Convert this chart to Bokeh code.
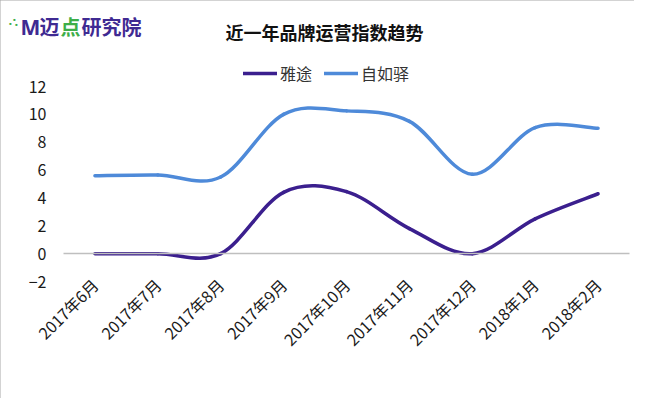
import numpy as np
from math import pi
from bokeh.plotting import figure
from bokeh.models import Range1d, FixedTicker, Label, Legend, LegendItem
from bokeh.embed import file_html
from bokeh.resources import INLINE

# ---- data ----
months = ["2017年6月", "2017年7月", "2017年8月", "2017年9月", "2017年10月",
          "2017年11月", "2017年12月", "2018年1月", "2018年2月"]
yatu = [0.0, 0.0, 0.0, 4.4, 4.45, 1.8, 0.0, 2.5, 4.3]
ziruyi = [5.6, 5.65, 5.5, 10.0, 10.25, 9.5, 5.7, 9.05, 9.0]
y_ticks = [-2, 0, 2, 4, 6, 8, 10, 12]
series_names = ["雅途", "自如驿"]
title_text = "近一年品牌运营指数趋势"
logo_parts = ["M", "迈", "点", "研究院"]

FONT = "Noto Sans CJK SC"
DARK = "#3B1F8E"
BLUE = "#4E8AD9"
LOGO_PURPLE = "#3F2A92"
LOGO_GREEN = "#3DAE49"

# ---- layout constants (pixels) ----
W, H = 634, 398
PLOT_L, PLOT_R, PLOT_T, PLOT_B = 63, 629, 86, 281   # plot area of the chart
n = len(months)
xpx = (PLOT_R - PLOT_L) / n
ypx = (PLOT_B - PLOT_T) / (y_ticks[-1] - y_ticks[0])
x_start = -0.5 - PLOT_L / xpx
x_end = n - 0.5 + (W - PLOT_R) / xpx
y_end = y_ticks[-1] + PLOT_T / ypx
y_start = y_ticks[0] - (H - PLOT_B) / ypx


def smooth_segments(xs, ys):
    """Cubic Bezier control points (Catmull-Rom style, like Excel smoothing)."""
    P = np.column_stack([np.asarray(xs, float), np.asarray(ys, float)])
    m = len(P)
    Pm = np.vstack([P[:1], P, P[-1:]])
    c0 = P[:-1] + (Pm[2:m + 1] - Pm[0:m - 1]) / 6.0
    c1 = P[1:] - (Pm[3:m + 2] - Pm[1:m]) / 6.0
    return dict(x0=P[:-1, 0], y0=P[:-1, 1], x1=P[1:, 0], y1=P[1:, 1],
                cx0=c0[:, 0], cy0=c0[:, 1], cx1=c1[:, 0], cy1=c1[:, 1])


xs = np.arange(n)

p = figure(width=W, height=H,
           x_range=Range1d(x_start, x_end), y_range=Range1d(y_start, y_end),
           output_backend="svg", toolbar_location=None,
           min_border_left=0, min_border_right=0, min_border_top=0, min_border_bottom=0)
p.background_fill_color = "white"
p.border_fill_color = "white"
p.outline_line_color = None
p.xgrid.visible = False
p.ygrid.visible = False
p.styles = {"outline": "1px solid #A6A6A6", "outline-offset": "-1px"}

# x axis: sits on the zero line (like Excel), labels below the plot area
p.xaxis.fixed_location = 0
p.xaxis.bounds = (-0.5, n - 0.5)
p.xaxis.ticker = FixedTicker(ticks=list(xs))
p.xaxis.major_label_overrides = {int(i): m for i, m in zip(xs, months)}
p.xaxis.major_label_orientation = pi / 4
p.xaxis.axis_line_color = "#BFBFBF"
p.xaxis.axis_line_width = 1.5
p.xaxis.major_tick_line_color = None
p.xaxis.minor_tick_line_color = None
p.xaxis.major_tick_out = 0
p.xaxis.major_tick_in = 0
p.xaxis.major_label_standoff = 28
p.xaxis.major_label_text_font = FONT
p.xaxis.major_label_text_font_size = "16px"
p.xaxis.major_label_text_color = "#1a1a1a"

p.yaxis.fixed_location = -0.5
p.yaxis.ticker = FixedTicker(ticks=y_ticks)
p.yaxis.axis_line_color = None
p.yaxis.major_tick_line_color = None
p.yaxis.minor_tick_line_color = None
p.yaxis.major_tick_out = 0
p.yaxis.major_tick_in = 0
p.yaxis.major_label_standoff = 17
p.yaxis.major_label_text_font = FONT
p.yaxis.major_label_text_font_size = "16px"
p.yaxis.major_label_text_color = "#1a1a1a"

r1 = p.bezier(**smooth_segments(xs, yatu), line_color=DARK, line_width=3.5, line_cap="round")
r2 = p.bezier(**smooth_segments(xs, ziruyi), line_color=BLUE, line_width=3.5, line_cap="round")

legend = Legend(items=[LegendItem(label=series_names[0], renderers=[r1]),
                       LegendItem(label=series_names[1], renderers=[r2])],
                orientation="horizontal", location=(243, H - 85),
                padding=0, margin=0, spacing=12, label_standoff=3,
                glyph_width=34, glyph_height=20,
                label_text_font=FONT, label_text_font_size="16px",
                label_text_color="#333333",
                border_line_color=None, background_fill_alpha=0)
p.add_layout(legend, "center")

# title
p.add_layout(Label(x=324, y=H - 31, x_units="screen", y_units="screen", text=title_text,
                   text_font=FONT, text_font_size="18px", text_font_style="bold",
                   text_align="center", text_baseline="middle", text_color="#111111"))

# logo
for dx, dy in [(10, 23), (14, 19), (16, 24)]:
    p.add_layout(Label(x=dx, y=H - dy, x_units="screen", y_units="screen", text="■",
                       text_font_size="4px", text_color=LOGO_GREEN,
                       text_align="center", text_baseline="middle"))
p.add_layout(Label(x=20, y=H - 26, x_units="screen", y_units="screen", text=logo_parts[0],
                   text_font="Noto Sans", text_font_size="21px", text_font_style="bold",
                   text_color=LOGO_PURPLE, text_align="left", text_baseline="middle"))
for txt, lx, col in [(logo_parts[1], 39, LOGO_PURPLE), (logo_parts[2], 60, LOGO_GREEN),
                     (logo_parts[3], 81, LOGO_PURPLE)]:
    p.add_layout(Label(x=lx, y=H - 26, x_units="screen", y_units="screen", text=txt,
                       text_font=FONT, text_font_size="20px", text_font_style="bold",
                       text_color=col, text_align="left", text_baseline="middle"))

open("out.html", "w").write(file_html(p, INLINE))
